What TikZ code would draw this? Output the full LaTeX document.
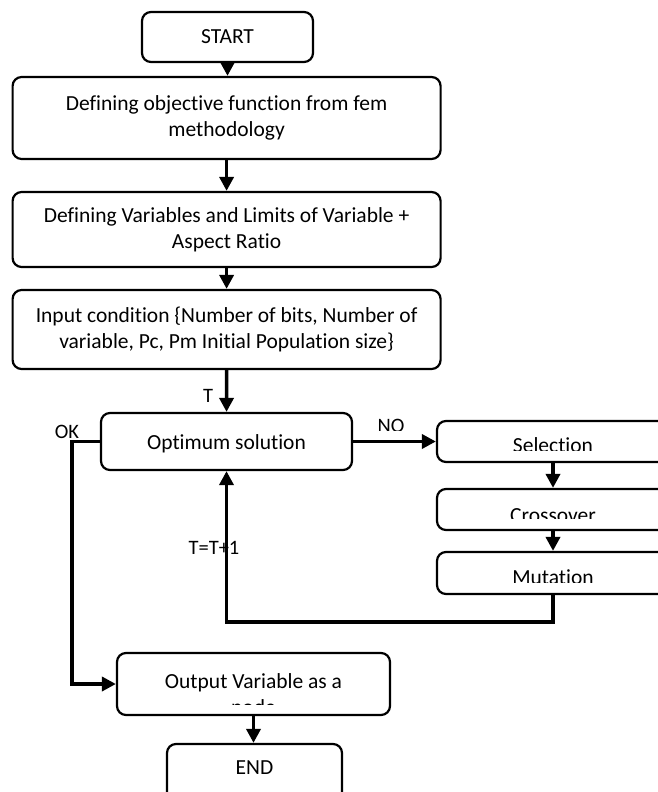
\documentclass[tikz,border=0pt]{standalone}
\usepackage{fontspec}
\setmainfont[Ligatures=NoCommon]{Carlito}
\usetikzlibrary{arrows.meta}
\begin{document}
\begin{tikzpicture}[x=1pt,y=-1pt,
  box/.style={draw, line width=2.2pt, rounded corners=9pt, fill=white, inner sep=0pt, align=center, font=\fontsize{21.5}{26}\selectfont},
  txt/.style={inner sep=0pt, font=\fontsize{21.5}{26}\selectfont},
  lbl/.style={inner sep=0pt, font=\fontsize{20.5}{24}\selectfont},
  arr/.style={line width=3.5pt, -{Triangle[length=14pt,width=14pt]}},
]
\clip (0,0) rectangle (658,792);
\fill[white] (0,0) rectangle (658,792);

% main column
\node[box, minimum width=171pt, minimum height=50pt] (start) at (227.5,37) {START};
\node[box, minimum width=428pt, minimum height=82pt] (def) at (226.6,118) {Defining objective function from fem\\methodology};
\node[box, minimum width=428pt, minimum height=75pt] (var) at (226.6,229.5) {Defining Variables and Limits of Variable +\\Aspect Ratio};
\node[box, minimum width=428pt, minimum height=79pt] (inp) at (226.6,329.5) {Input condition \{Number of bits, Number of\\variable, Pc, Pm Initial Population size\}};
\node[box, minimum width=251pt, minimum height=57pt] (opt) at (226.5,441.5) {};
\node[txt, anchor=base] (optt) at (226.5,449) {Optimum solution};

% right column
\node[box, minimum width=232pt, minimum height=41pt] (sel) at (553,441.5) {};
\node[box, minimum width=232pt, minimum height=41pt] (cro) at (553,509.5) {};
\node[box, minimum width=232pt, minimum height=42pt] (mut) at (553,573) {};
\begin{scope}
  \clip (437,421) rectangle (669,450);
  \node[txt, anchor=base] (selt) at (553,452.5) {Selection};
\end{scope}
\begin{scope}
  \clip (437,489) rectangle (669,518);
  \node[txt, anchor=base] (crot) at (553,522.5) {Crossover};
\end{scope}
\begin{scope}
  \clip (437,552) rectangle (669,582);
  \node[txt, anchor=base] (mutt) at (553,584.5) {Mutation};
\end{scope}

% output / end
\node[box, minimum width=273pt, minimum height=62pt] (out) at (253.5,684) {};
\begin{scope}
  \clip (117,653) rectangle (390,704.5);
  \node[txt, anchor=base] (outt) at (253.5,688.3) {Output Variable as a};
  \node[txt, anchor=base] (outt2) at (253.5,714.3) {node};
\end{scope}
\node[box, minimum width=175pt, minimum height=60pt] (end) at (254.5,774) {};
\node[txt] (endt) at (254.5,767.5) {END};

% labels
\node[lbl] (tl) at (208,396) {T};
\node[lbl] (okl) at (67,432) {OK};
\begin{scope}
  \clip (360,400) rectangle (420,430.5);
  \node[lbl, anchor=base] (nol) at (391,432.5) {NO};
\end{scope}
\node[lbl] (tt) at (214,548) {T=T+1};

% connectors
\coordinate (loopc) at (553,622);
\coordinate (okc) at (72,441.5);
\draw[arr] (start.south) -- (start.south |- def.north);
\draw[arr] (def) -- (var);
\draw[arr] (var) -- (inp);
\draw[arr] (inp) -- (opt);
\draw[arr] (opt.east) -- (sel.west);
\draw[arr] (sel) -- (cro);
\draw[arr] (cro) -- (mut);
\draw[arr] (mut.south) -- (loopc) -| (opt.south);
\draw[arr] (opt.west) -- (okc) |- (out.west);
\draw[arr] (out.south) -- (out.south |- end.north);
\end{tikzpicture}
\end{document}
